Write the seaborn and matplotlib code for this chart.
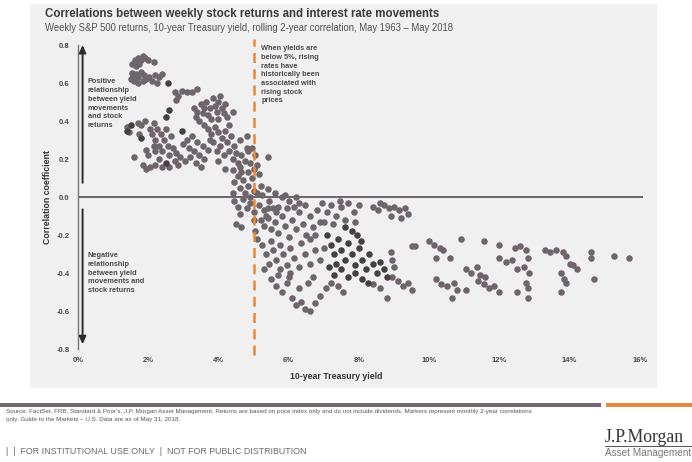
import matplotlib
matplotlib.use("Agg")
import matplotlib.pyplot as plt
import matplotlib.patches as mpatches
import seaborn as sns
import pandas as pd

# 10-year Treasury yield (%) and rolling 2-year correlation, regular markers
yield_pct = [
    1.55, 1.62, 1.70, 1.78, 1.85, 1.92, 2.00, 1.66, 2.15, 1.75,
    1.52, 1.58, 1.65, 1.72, 1.80, 1.88, 1.95, 2.02, 1.60, 1.70, 1.84, 1.55, 2.10, 2.18, 2.30, 2.38, 2.25,
    2.75, 2.85, 2.95, 3.10, 3.25, 3.40, 2.80,
    3.30, 3.40, 3.50, 3.55, 3.60, 3.70, 3.65, 3.75, 3.85, 3.90, 3.95, 4.00, 4.05, 4.10, 4.15, 4.20,
    3.80, 4.00, 4.25, 4.30, 4.40, 3.45, 3.60, 3.35,
    3.70, 3.80, 3.90, 4.00, 4.10, 4.20, 3.85, 4.05, 4.25, 4.35, 4.45, 4.30, 4.50, 4.15, 4.60, 4.40,
    3.95, 4.55, 4.65,
    4.80, 4.85, 4.95, 5.05, 4.90, 5.00, 5.10, 4.85, 5.40, 5.15,
    4.45, 4.55, 4.60, 4.70, 4.75, 4.85, 4.95, 5.00, 4.65, 4.40, 4.90,
    2.05, 2.15, 2.10, 2.20, 2.25, 2.30, 2.35, 2.40, 2.45, 2.50, 2.55, 2.60, 2.65, 2.70, 2.75, 2.80,
    2.20, 2.30, 2.40, 2.60, 2.85, 2.90, 2.15, 1.95, 2.00,
    1.70, 1.80, 1.90, 1.75, 1.60, 1.85, 1.95, 2.05, 2.20, 1.40, 1.45,
    3.00, 3.10, 3.15, 3.25, 3.30, 3.40, 3.45, 3.55, 3.60, 3.70, 3.75, 3.20, 3.05, 3.35, 3.50,
    4.00, 4.20, 4.40, 4.60, 4.75, 4.80,
    4.45, 4.55, 4.60, 4.70, 4.80, 4.90, 5.00, 5.10, 5.15, 5.25, 5.30, 5.40, 5.45, 5.55, 5.60, 5.70,
    5.20, 5.35, 4.50, 4.65, 5.00, 5.05, 5.10, 5.80, 5.90, 6.00, 6.20, 6.30,
    5.20, 5.30, 5.40, 5.50, 5.60, 5.70, 5.80, 5.90, 6.00, 6.10, 6.20, 6.30, 6.40, 6.50, 6.60, 6.70,
    6.80, 6.90, 5.50, 5.75, 6.05, 6.35, 6.60, 5.40, 5.65, 6.15, 6.45, 5.95, 6.75,
    6.95, 7.10, 7.20, 7.35, 7.50, 7.60, 7.70, 7.85, 8.00, 7.00, 7.25, 7.45, 7.90,
    8.40, 8.55, 8.70, 8.85, 9.00, 9.15, 9.30, 9.40, 8.90, 9.20, 8.60,
    5.25, 5.35, 5.45, 5.55, 5.65, 5.75, 5.85, 5.95, 6.05, 5.30, 6.15, 6.30, 6.45, 6.60, 6.75, 6.90, 7.00,
    5.50, 5.65, 5.80, 5.95, 6.10, 6.20, 6.35, 6.45, 6.60, 6.75, 6.90, 7.05, 6.30, 6.55, 6.70, 6.00,
    5.70, 7.20, 7.40, 7.55,
    8.90, 9.50, 8.95, 9.00, 8.95, 9.10, 9.25, 9.40, 9.50, 8.80, 8.40, 8.60,
    9.60, 10.00, 10.15, 10.30, 10.40, 10.20, 10.60, 10.90, 10.20, 10.35, 10.50, 10.70, 10.80, 10.65,
    11.05, 11.05, 11.20, 11.35, 11.45, 11.60, 11.55, 12.00, 11.40, 11.55, 11.70, 11.85, 12.00, 12.00,
    12.20, 12.35, 12.45, 12.60, 12.75, 12.80, 12.50, 12.70, 12.85, 12.50, 12.75, 12.80, 12.80,
    13.30, 13.45, 13.60, 13.80, 13.90, 14.00, 14.10, 14.20, 13.75, 13.85, 13.90, 13.75,
    14.60, 14.60, 14.70, 15.25, 15.70,
]
correlation = [
    0.70, 0.72, 0.73, 0.72, 0.74, 0.73, 0.72, 0.69, 0.71, 0.70,
    0.62, 0.64, 0.65, 0.63, 0.66, 0.64, 0.62, 0.63, 0.61, 0.60, 0.61, 0.655, 0.61, 0.64, 0.63, 0.65, 0.60,
    0.55, 0.53, 0.56, 0.55, 0.55, 0.57, 0.51,
    0.47, 0.45, 0.49, 0.44, 0.47, 0.43, 0.50, 0.47, 0.52, 0.48, 0.45, 0.50, 0.53, 0.47, 0.44, 0.49,
    0.41, 0.41, 0.42, 0.38, 0.45, 0.40, 0.38, 0.42,
    0.36, 0.33, 0.37, 0.34, 0.31, 0.35, 0.29, 0.27, 0.29, 0.32, 0.27, 0.24, 0.23, 0.22, 0.30, 0.20,
    0.24, 0.18, 0.22,
    0.32, 0.24, 0.26, 0.22, 0.18, 0.15, 0.17, 0.13, 0.21, 0.12,
    0.08, 0.11, 0.05, 0.09, 0.02, 0.06, 0.10, 0.03, 0.13, 0.02, 0.00,
    0.36, 0.39, 0.33, 0.30, 0.36, 0.27, 0.33, 0.24, 0.30, 0.36, 0.27, 0.22, 0.32, 0.26, 0.19, 0.23,
    0.24, 0.20, 0.16, 0.16, 0.17, 0.21, 0.27, 0.25, 0.22,
    0.39, 0.38, 0.40, 0.33, 0.21, 0.17, 0.15, 0.16, 0.17, 0.37, 0.34,
    0.28, 0.30, 0.26, 0.32, 0.24, 0.29, 0.22, 0.27, 0.20, 0.25, 0.30, 0.21, 0.19, 0.18, 0.16,
    0.19, 0.15, 0.14, 0.16, 0.19, 0.26,
    -0.02, -0.05, -0.09, -0.01, -0.06, -0.03, -0.08, 0.02, -0.04, 0.01, -0.07, 0.04, -0.02, -0.06, 0.02, -0.05,
    0.06, -0.10, -0.14, -0.16, -0.12, -0.18, -0.22, 0.00, 0.01, -0.02, 0.00, -0.03,
    -0.12, -0.15, -0.11, -0.17, -0.13, -0.19, -0.10, -0.15, -0.21, -0.12, -0.17, -0.08, -0.14, -0.20, -0.10, -0.16,
    -0.07, -0.13, -0.23, -0.25, -0.27, -0.24, -0.22, -0.06, -0.08, -0.05, -0.04, -0.06, -0.20,
    -0.03, -0.08, -0.04, -0.10, -0.05, -0.12, -0.03, -0.08, -0.04, -0.13, -0.14, -0.02, -0.13,
    -0.05, -0.07, -0.04, -0.06, -0.05, -0.07, -0.06, -0.09, -0.10, -0.11, -0.03,
    -0.25, -0.30, -0.35, -0.28, -0.33, -0.38, -0.30, -0.36, -0.40, -0.38, -0.32, -0.37, -0.30, -0.35, -0.28, -0.33, -0.27,
    -0.43, -0.47, -0.50, -0.45, -0.53, -0.57, -0.55, -0.59, -0.60, -0.56, -0.52, -0.48, -0.48, -0.45, -0.42, -0.42,
    -0.41, -0.45, -0.47, -0.50,
    -0.29, -0.26, -0.33, -0.37, -0.42, -0.44, -0.47, -0.45, -0.49, -0.53, -0.46, -0.48,
    -0.26, -0.23, -0.25, -0.27, -0.28, -0.32, -0.32, -0.22, -0.43, -0.46, -0.47, -0.45, -0.49, -0.53,
    -0.49, -0.38, -0.40, -0.37, -0.41, -0.42, -0.23, -0.25, -0.44, -0.46, -0.48, -0.47, -0.50, -0.32,
    -0.34, -0.33, -0.27, -0.26, -0.28, -0.32, -0.38, -0.37, -0.40, -0.50, -0.45, -0.48, -0.53,
    -0.28, -0.29, -0.28, -0.29, -0.31, -0.35, -0.36, -0.38, -0.40, -0.43, -0.45, -0.50,
    -0.29, -0.32, -0.43, -0.31, -0.32,
]

# Highlighted markers, drawn darker
dark_yield_pct = [
    2.56, 2.60, 2.50, 1.50, 1.40, 1.80, 2.50, 2.95,
    7.10, 7.20, 7.30, 7.40, 7.50, 7.60, 7.70, 7.80, 7.90, 8.00, 8.10, 8.20, 8.30, 8.40, 8.50,
    7.50, 7.70, 7.90, 8.10, 7.35, 7.60, 7.80, 7.95, 8.05, 7.30, 8.60, 8.70, 8.80, 8.25, 7.15,
]
dark_correlation = [
    0.60, 0.46, 0.42, 0.38, 0.35, 0.31, 0.18, 0.35,
    -0.20, -0.25, -0.30, -0.22, -0.28, -0.33, -0.24, -0.30, -0.36, -0.27, -0.33, -0.38, -0.30, -0.35, -0.40,
    -0.38, -0.42, -0.40, -0.43, -0.35, -0.16, -0.18, -0.20, -0.23, -0.41, -0.34, -0.38, -0.42, -0.45, -0.37,
]

x_ticks = [0, 2, 4, 6, 8, 10, 12, 14, 16]
x_tick_labels = ["0%", "2%", "4%", "6%", "8%", "10%", "12%", "14%", "16%"]
y_ticks = [0.8, 0.6, 0.4, 0.2, 0.0, -0.2, -0.4, -0.6, -0.8]
y_tick_labels = ["0.8", "0.6", "0.4", "0.2", "0.0", "-0.2", "-0.4", "-0.6", "-0.8"]
threshold_yield = 5.0

GREY = "#6e646b"
DARK = "#463e43"
ORANGE = "#e8883a"
TEXT = "#4a4a4a"

sns.set_style("white")
plt.rcParams["font.family"] = ["Liberation Sans", "DejaVu Sans"]

fig = plt.figure(figsize=(6.92, 4.62), dpi=100)
fig.patch.set_facecolor("white")

# light panel behind the chart
fig.patches.append(mpatches.Rectangle((30 / 692, 1 - 388 / 462), (657 - 30) / 692, (388 - 4) / 462,
                                      transform=fig.transFigure, facecolor="#f1f0f0",
                                      edgecolor="none", zorder=-10))

ax = fig.add_axes([78 / 692, 1 - 349 / 462, (643.4 - 78) / 692, (349 - 45) / 462])
ax.set_facecolor("none")

df = pd.DataFrame({"yield": yield_pct, "corr": correlation})
df_dark = pd.DataFrame({"yield": dark_yield_pct, "corr": dark_correlation})

sns.scatterplot(data=df, x="yield", y="corr", ax=ax, color=GREY, s=22, linewidth=0, zorder=3)
sns.scatterplot(data=df_dark, x="yield", y="corr", ax=ax, color=DARK, s=22, linewidth=0, zorder=4)

ax.set_xlim(0, 16.1)
ax.set_ylim(-0.8, 0.8)

# zero line and 5% threshold
ax.axhline(0, color="#6a6468", lw=1.4, zorder=2)
ax.plot([threshold_yield, threshold_yield], [-0.83, 0.83], color=ORANGE, lw=1.8,
        dashes=(4, 2.5), zorder=5, clip_on=False)

# direction arrows along the y axis
arrow_kw = dict(arrowstyle="-|>,head_length=0.45,head_width=0.2", color="#2b2b2b", lw=1.4)
ax.annotate("", xy=(0.13, 0.815), xytext=(0.13, 0.06), arrowprops=arrow_kw, annotation_clip=False)
ax.annotate("", xy=(0.13, -0.79), xytext=(0.13, -0.05), arrowprops=arrow_kw, annotation_clip=False)

ax.text(0.28, 0.625, "Positive\nrelationship\nbetween yield\nmovements\nand stock\nreturns",
        fontsize=5.3, fontweight="bold", color=TEXT, va="top", ha="left", linespacing=1.35)
ax.text(0.28, -0.29, "Negative\nrelationship\nbetween yield\nmovements and\nstock returns",
        fontsize=5.3, fontweight="bold", color=TEXT, va="top", ha="left", linespacing=1.35)
ax.text(5.22, 0.80, "When yields are\nbelow 5%, rising\nrates have\nhistorically been\nassociated with\nrising stock\nprices",
        fontsize=5.3, fontweight="bold", color=TEXT, va="top", ha="left", linespacing=1.35)

# axes styling
for side in ["top", "right", "bottom"]:
    ax.spines[side].set_visible(False)
ax.spines["left"].set_color("#7a7478")
ax.spines["left"].set_linewidth(1.0)
ax.set_xticks(x_ticks)
ax.set_xticklabels(x_tick_labels)
ax.set_yticks(y_ticks)
ax.set_yticklabels(y_tick_labels)
ax.tick_params(axis="x", length=0, pad=6, labelsize=5.5, labelcolor=TEXT)
ax.tick_params(axis="y", length=3, width=0.8, color="#7a7478", pad=3, labelsize=5.5, labelcolor=TEXT)
for lbl in ax.get_xticklabels() + ax.get_yticklabels():
    lbl.set_fontweight("bold")

ax.set_xlabel("10-year Treasury yield", fontsize=6.3, fontweight="bold", color="#333333")
ax.set_ylabel("Correlation coefficient", fontsize=6.3, fontweight="bold", color="#333333")
ax.xaxis.set_label_coords(0.457, -0.075)
ax.yaxis.set_label_coords(-0.046, 0.5)

# titles
fig.text(45 / 692, 1 - 14 / 462, "Correlations between weekly stock returns and interest rate movements",
         fontsize=8.3, fontweight="bold", color="#3a3a3a", va="center", ha="left")
fig.text(45 / 692, 1 - 28 / 462,
         "Weekly S&P 500 returns, 10-year Treasury yield, rolling 2-year correlation, May 1963 \u2013 May 2018",
         fontsize=6.85, color="#505050", va="center", ha="left")

# footer rules
fig.patches.append(mpatches.Rectangle((0, 1 - 407 / 462), 601 / 692, 4 / 462, transform=fig.transFigure,
                                      facecolor="#736a70", edgecolor="none"))
fig.patches.append(mpatches.Rectangle((606 / 692, 1 - 407 / 462), 86 / 692, 4 / 462, transform=fig.transFigure,
                                      facecolor=ORANGE, edgecolor="none"))

fig.text(6 / 692, 1 - 411 / 462,
         "Source: FactSet, FRB, Standard & Poor's, J.P. Morgan Asset Management. Returns are based on price index only and do not include dividends. "
         "Markers represent monthly 2-year correlations",
         fontsize=4.5, color="#555555", va="center", ha="left")
fig.text(6 / 692, 1 - 420 / 462, "only. Guide to the Markets \u2013 U.S. Data are as of May 31, 2018.",
         fontsize=4.5, color="#555555", va="center", ha="left")
fig.text(6 / 692, 1 - 452 / 462, "|  |  FOR INSTITUTIONAL USE ONLY  |  NOT FOR PUBLIC DISTRIBUTION",
         fontsize=6.4, color="#6a6a6a", va="center", ha="left")

fig.text(605 / 692, 1 - 437 / 462, "J.P.Morgan", fontsize=12.8, family=["Liberation Serif", "DejaVu Serif"],
         color="#333333", va="center", ha="left")
fig.lines.append(plt.Line2D([605 / 692, 1.0], [1 - 446 / 462, 1 - 446 / 462], transform=fig.transFigure,
                            color="#555555", lw=0.7))
fig.text(605 / 692, 1 - 453 / 462, "Asset Management", fontsize=7.2, color="#777777", va="center", ha="left")

fig.savefig("out.png", dpi=100)
